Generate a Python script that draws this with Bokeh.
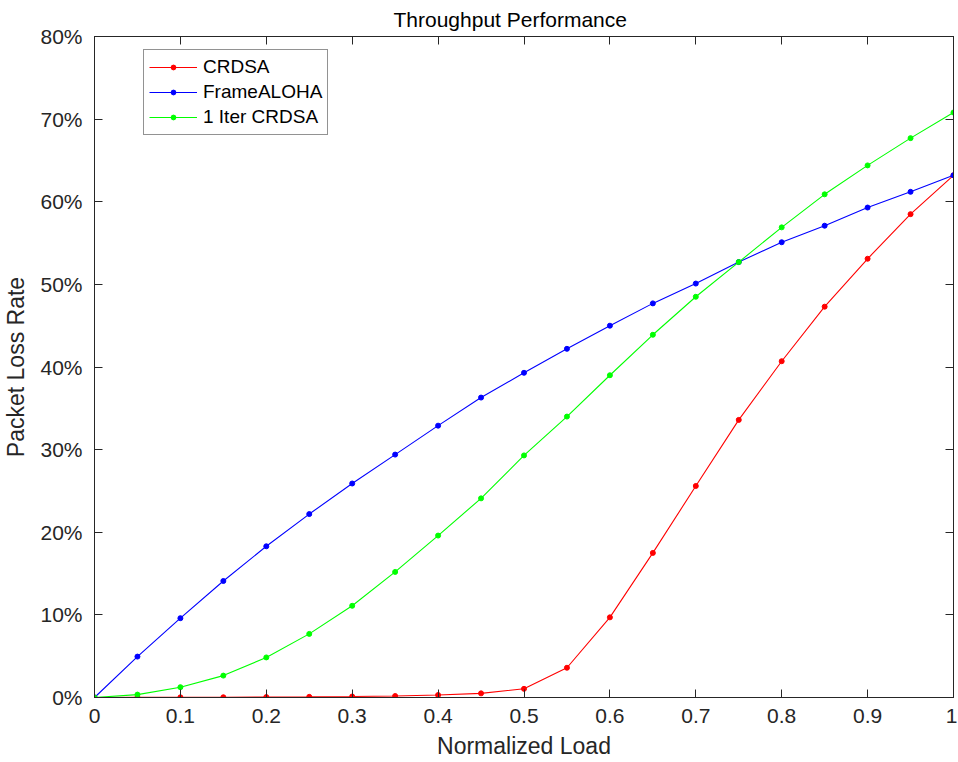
from bokeh.plotting import figure
from bokeh.models import (Range1d, FixedTicker, LinearAxis, CustomJSTickFormatter,
                          Legend, LegendItem, CustomLabelingPolicy)
from bokeh.embed import file_html
from bokeh.resources import INLINE

# ---- data ----
load = [0.0, 0.05, 0.1, 0.15, 0.2, 0.25, 0.3, 0.35, 0.4, 0.45, 0.5,
        0.55, 0.6, 0.65, 0.7, 0.75, 0.8, 0.85, 0.9, 0.95, 1.0]
crdsa = [0.0, 0.01, 0.02, 0.03, 0.05, 0.08, 0.12, 0.18, 0.3, 0.5, 1.05,
         3.6, 9.7, 17.5, 25.6, 33.6, 40.7, 47.3, 53.1, 58.5, 63.2]
frame_aloha = [0.0, 4.95, 9.6, 14.1, 18.3, 22.2, 25.9, 29.4, 32.9, 36.3, 39.3,
               42.2, 45.0, 47.7, 50.1, 52.7, 55.1, 57.1, 59.3, 61.2, 63.2]
iter1_crdsa = [0.0, 0.35, 1.25, 2.65, 4.85, 7.7, 11.1, 15.2, 19.6, 24.1, 29.3,
               34.0, 39.0, 43.9, 48.5, 52.7, 56.9, 60.9, 64.4, 67.7, 70.8]
series_names = ["CRDSA", "FrameALOHA", "1 Iter CRDSA"]
series_colors = ["#ff0000", "#0000ff", "#00ff00"]
x_ticks = [0.0, 0.1, 0.2, 0.3, 0.4, 0.5, 0.6, 0.7, 0.8, 0.9, 1.0]
y_ticks = [0, 10, 20, 30, 40, 50, 60, 70, 80]
y_tick_labels = ["0%", "10%", "20%", "30%", "40%", "50%", "60%", "70%", "80%"]

FONT = "Liberation Sans"
AX = "#262626"

p = figure(frame_width=859, frame_height=661,
           min_border_left=94, min_border_top=36, min_border_right=4, min_border_bottom=65,
           x_range=Range1d(0, 1), y_range=Range1d(0, 80),
           output_backend="svg", toolbar_location=None,
           title="Throughput Performance")
p.background_fill_color = "white"
p.border_fill_color = "white"
p.outline_line_color = AX
p.outline_line_width = 1
p.xgrid.visible = False
p.ygrid.visible = False

p.title.text_font = FONT
p.title.text_font_size = "21px"
p.title.text_font_style = "normal"
p.title.text_color = "#000000"
p.title.align = "left"
p.title.offset = 299
p.title.standoff = 3

xfmt = CustomJSTickFormatter(code="return (Math.round(tick*10)/10).toString();")

def style_axis(ax, size="21px"):
    ax.axis_line_color = AX
    ax.major_tick_line_color = AX
    ax.major_tick_in = 8
    ax.major_tick_out = 0
    ax.minor_tick_line_color = None
    ax.major_label_text_font = FONT
    ax.major_label_text_color = AX
    ax.major_label_text_font_size = size

# bottom x axis
xa = p.xaxis[0]
xa.ticker = FixedTicker(ticks=x_ticks)
xa.formatter = xfmt
style_axis(xa)
xa.major_label_standoff = 11
xa.axis_label = "Normalized Load"
xa.axis_label_text_font = FONT
xa.axis_label_text_font_size = "23px"
xa.axis_label_text_font_style = "normal"
xa.axis_label_text_color = AX
xa.axis_label_standoff = 7

# left y axis
ya = p.yaxis[0]
ya.ticker = FixedTicker(ticks=y_ticks)
ya.major_label_overrides = {t: l for t, l in zip(y_ticks, y_tick_labels)}
style_axis(ya)
ya.major_label_standoff = 12
ya.axis_label = "Packet Loss Rate"
ya.axis_label_text_font = FONT
ya.axis_label_text_font_size = "23px"
ya.axis_label_text_font_style = "normal"
ya.axis_label_text_color = AX
ya.axis_label_standoff = 8

# top and right axes (ticks only, no labels drawn)
no_labels = CustomLabelingPolicy(code="return [];")
top = LinearAxis(ticker=FixedTicker(ticks=x_ticks), major_label_policy=no_labels)
style_axis(top, "1px")
top.major_label_standoff = 0
p.add_layout(top, "above")
right = LinearAxis(ticker=FixedTicker(ticks=y_ticks), major_label_policy=no_labels)
style_axis(right, "1px")
right.major_label_standoff = 0
p.add_layout(right, "right")

items = []
for name, ys, col in zip(series_names, [crdsa, frame_aloha, iter1_crdsa], series_colors):
    ln = p.line(load, ys, line_color=col, line_width=1.1)
    sc = p.scatter(load, ys, size=5, fill_color=col, line_color=col, marker="circle")
    items.append(LegendItem(label=name, renderers=[ln, sc]))

legend = Legend(items=items, location=(49, 562))
legend.margin = 0
legend.padding = 5
legend.spacing = 1
legend.label_height = 24
legend.glyph_height = 12
legend.glyph_width = 48
legend.label_standoff = 6
legend.label_text_font = FONT
legend.label_text_font_size = "19px"
legend.label_text_color = "#000000"
legend.border_line_color = AX
legend.border_line_width = 1
legend.background_fill_color = "white"
legend.background_fill_alpha = 1.0
p.add_layout(legend, "center")

open("out.html", "w").write(file_html(p, INLINE))
